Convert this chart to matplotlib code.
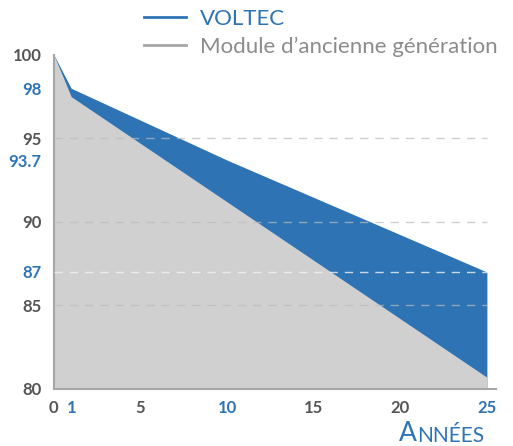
import matplotlib.pyplot as plt
from matplotlib.lines import Line2D

plt.rcParams['font.family'] = ['Lato', 'DejaVu Sans']

# data
years_voltec = [0, 1, 10, 25]
voltec = [100, 98, 93.7, 87]
years_old = [0, 1, 25]
old = [100, 97.5, 80.7]

yticks = [80, 85, 87, 90, 93.7, 95, 98, 100]
xticks = [0, 1, 5, 10, 15, 20, 25]
blue_y = [98, 93.7, 87]
blue_x = [1, 10, 25]

BLUE = '#2E74B5'
GRAY_FILL = '#D0D0D0'
DARK = '#555555'

fig = plt.figure(figsize=(5.13, 4.46), dpi=100)
ax = fig.add_axes([0.105, 0.128, 0.861, 0.749])

ax.fill_between(years_voltec, 80, voltec, color=BLUE, lw=0, zorder=1)
ax.fill_between(years_old, 80, old, color=GRAY_FILL, lw=0, zorder=2)

for v in [95, 90, 85]:
    ax.axhline(v, xmax=0.98, color='#BBBBBB', lw=1, ls=(0, (6, 5)), alpha=0.7, zorder=3)
ax.axhline(87, xmax=0.98, color='#F2F2F2', lw=1, ls=(0, (6, 5)), alpha=0.8, zorder=3)

ax.set_xlim(0, 25.5)
ax.set_ylim(80, 100)
ax.set_xticks(xticks)
ax.set_yticks(yticks)
ax.set_xticklabels([str(x) for x in xticks])
ax.set_yticklabels([('%g' % y) for y in yticks])
ax.tick_params(length=0, labelsize=12)
ax.tick_params(axis='y', pad=9)
ax.tick_params(axis='x', pad=8)
for lab, y in zip(ax.get_yticklabels(), yticks):
    lab.set_fontweight('bold')
    lab.set_color(BLUE if y in blue_y else DARK)
for lab, x in zip(ax.get_xticklabels(), xticks):
    lab.set_fontweight('bold')
    lab.set_color(BLUE if x in blue_x else DARK)

for s in ['top', 'right']:
    ax.spines[s].set_visible(False)
for s in ['left', 'bottom']:
    ax.spines[s].set_color('#A6A6A6')
    ax.spines[s].set_linewidth(1.5)

handles = [Line2D([], [], color=BLUE, lw=2), Line2D([], [], color='#A6A6A6', lw=2)]
fig.legend(handles, ['VOLTEC', 'Module d\u2019ancienne génération'],
           loc='upper left', bbox_to_anchor=(0.242, 1.025), frameon=False,
           fontsize=16, labelcolor=[BLUE, '#8C8C8C'], handlelength=1.9,
           handletextpad=0.6, labelspacing=0.35)

t1 = fig.text(0.778, 0.012, 'A', color=BLUE, fontsize=19)
ax.annotate('NNÉES', xy=(1, 0), xycoords=t1, color=BLUE, fontsize=15,
            va='bottom', ha='left', annotation_clip=False)

fig.savefig('out.png', dpi=100)
